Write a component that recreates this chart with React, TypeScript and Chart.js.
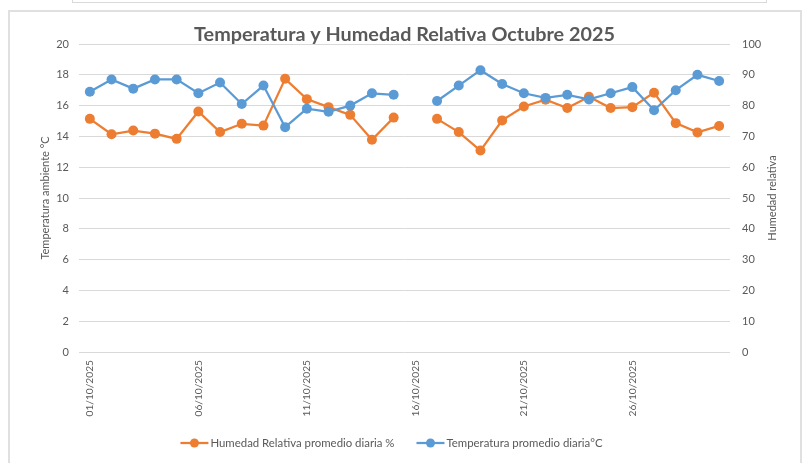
import React, { useEffect, useRef } from "react";
import { Chart, registerables } from "chart.js";

Chart.register(...registerables);

const categories = [
  "01/10/2025", "02/10/2025", "03/10/2025", "04/10/2025", "05/10/2025",
  "06/10/2025", "07/10/2025", "08/10/2025", "09/10/2025", "10/10/2025",
  "11/10/2025", "12/10/2025", "13/10/2025", "14/10/2025", "15/10/2025",
  "16/10/2025", "17/10/2025", "18/10/2025", "19/10/2025", "20/10/2025",
  "21/10/2025", "22/10/2025", "23/10/2025", "24/10/2025", "25/10/2025",
  "26/10/2025", "27/10/2025", "28/10/2025", "29/10/2025", "30/10/2025",
];

const humidity = [
  75.7, 70.7, 71.9, 70.9, 69.2, 78.1, 71.4, 74.1, 73.5, 88.7,
  82.1, 79.5, 77.0, 68.9, 76.1, null, 75.7, 71.4, 65.4, 75.2,
  79.7, 81.9, 79.2, 82.9, 79.2, 79.5, 84.2, 74.3, 71.3, 73.4,
];

const temperature = [
  16.9, 17.7, 17.1, 17.7, 17.7, 16.8, 17.5, 16.1, 17.3, 14.6,
  15.8, 15.6, 16.0, 16.8, 16.7, null, 16.3, 17.3, 18.3, 17.4,
  16.8, 16.5, 16.7, 16.4, 16.8, 17.2, 15.7, 17.0, 18.0, 17.6,
];

const TITLE = "Temperatura y Humedad Relativa Octubre 2025";
const LEFT_TITLE = "Temperatura ambiente °C";
const RIGHT_TITLE = "Humedad relativa";
const HUM_LABEL = "Humedad Relativa promedio diaria %";
const TEMP_LABEL = "Temperatura promedio diaria°C";

const ORANGE = "#ED7D31";
const BLUE = "#5B9BD5";
const TEXT = "#595959";
const GRID = "#d9d9d9";
const FONT = "Lato, 'Open Sans', sans-serif";

const decorPlugin = {
  id: "decor",
  afterDraw(chart: any) {
    const { ctx, chartArea } = chart;
    const midY = (chartArea.top + chartArea.bottom) / 2;
    ctx.save();
    // Title
    ctx.fillStyle = TEXT;
    ctx.font = `bold 19.8px ${FONT}`;
    ctx.textAlign = "center";
    ctx.textBaseline = "alphabetic";
    ctx.fillText(TITLE, chart.width / 2, 41);

    // Axis titles
    ctx.font = `11px ${FONT}`;
    ctx.textBaseline = "middle";
    ctx.save();
    ctx.translate(45, midY);
    ctx.rotate(-Math.PI / 2);
    ctx.fillText(LEFT_TITLE, 0, 0);
    ctx.restore();
    ctx.save();
    ctx.translate(772, midY);
    ctx.rotate(-Math.PI / 2);
    ctx.fillText(RIGHT_TITLE, 0, 0);
    ctx.restore();

    // Legend
    const items = chart.data.datasets.map((d: any) => ({
      text: d.label,
      color: d.borderColor,
    }));
    ctx.font = `11.4px ${FONT}`;
    const marker = 28;
    const gap = 2;
    const spacing = 22;
    let total = 0;
    items.forEach((it: any, i: number) => {
      it.w = ctx.measureText(it.text).width;
      total += marker + gap + it.w + (i > 0 ? spacing : 0);
    });
    let x = chart.width / 2 - 13 - total / 2;
    const y = 443;
    items.forEach((it: any) => {
      ctx.strokeStyle = it.color;
      ctx.lineWidth = 2.25;
      ctx.beginPath();
      ctx.moveTo(x, y);
      ctx.lineTo(x + marker, y);
      ctx.stroke();
      ctx.fillStyle = it.color;
      ctx.beginPath();
      ctx.arc(x + marker / 2, y, 4.5, 0, Math.PI * 2);
      ctx.fill();
      ctx.fillStyle = TEXT;
      ctx.textAlign = "left";
      ctx.textBaseline = "middle";
      ctx.fillText(it.text, x + marker + gap, y);
      x += marker + gap + it.w + spacing;
    });
    ctx.restore();
  },
};

export default function App() {
  const ref = useRef<HTMLCanvasElement | null>(null);

  useEffect(() => {
    if (!ref.current) return;
    const chart = new Chart(ref.current, {
      type: "line",
      data: {
        labels: categories,
        datasets: [
          {
            label: HUM_LABEL,
            data: humidity,
            yAxisID: "y1",
            borderColor: ORANGE,
            backgroundColor: ORANGE,
            pointBackgroundColor: ORANGE,
            pointBorderColor: ORANGE,
            borderWidth: 2.25,
            pointRadius: 5,
            pointBorderWidth: 0,
            tension: 0,
            spanGaps: false,
            order: 2,
          },
          {
            label: TEMP_LABEL,
            data: temperature,
            yAxisID: "y",
            borderColor: BLUE,
            backgroundColor: BLUE,
            pointBackgroundColor: BLUE,
            pointBorderColor: BLUE,
            borderWidth: 2.25,
            pointRadius: 5,
            pointBorderWidth: 0,
            tension: 0,
            spanGaps: false,
            order: 1,
          },
        ],
      },
      options: {
        animation: false,
        responsive: false,
        events: [],
        layout: { padding: { top: 44, bottom: 31, left: 0, right: 0 } },
        plugins: {
          legend: { display: false },
          title: { display: false },
          tooltip: { enabled: false },
        },
        scales: {
          x: {
            type: "category",
            offset: true,
            grid: { display: false },
            border: { display: false },
            ticks: {
              autoSkip: false,
              minRotation: 90,
              maxRotation: 90,
              padding: 0,
              color: TEXT,
              font: { family: FONT, size: 10.2 },
              callback: (_v: any, i: number) => (i % 5 === 0 ? categories[i] : ""),
            },
            afterFit: (s: any) => {
              s.height = 80;
            },
          },
          y: {
            position: "left",
            min: 0,
            max: 20,
            grid: { color: GRID, lineWidth: 1, drawTicks: false },
            border: { display: false },
            ticks: {
              stepSize: 2,
              padding: 10,
              color: TEXT,
              font: { family: FONT, size: 11 },
            },
            afterFit: (s: any) => {
              s.width = 79;
            },
          },
          y1: {
            position: "right",
            min: 0,
            max: 100,
            grid: { display: false, drawTicks: false },
            border: { display: false },
            ticks: {
              stepSize: 10,
              padding: 12,
              color: TEXT,
              font: { family: FONT, size: 11 },
            },
            afterFit: (s: any) => {
              s.width = 79;
            },
          },
        },
      },
      plugins: [decorPlugin],
    } as any);
    return () => chart.destroy();
  }, []);

  return (
    <div
      style={{
        position: "fixed",
        left: 0,
        top: 0,
        width: 809,
        height: 463,
        background: "#ffffff",
        overflow: "hidden",
      }}
    >
      <div
        style={{
          position: "absolute",
          left: 72,
          top: -4,
          width: 695,
          height: 7,
          border: `1px solid ${GRID}`,
          boxSizing: "border-box",
        }}
      />
      <div
        style={{
          position: "absolute",
          left: 8,
          top: 10,
          width: 794,
          height: 470,
          border: `2px solid #e0e0e0`,
          boxSizing: "border-box",
        }}
      />
      <canvas
        ref={ref}
        width={809}
        height={463}
        style={{ position: "absolute", left: 0, top: 0, width: 809, height: 463 }}
      />
    </div>
  );
}
